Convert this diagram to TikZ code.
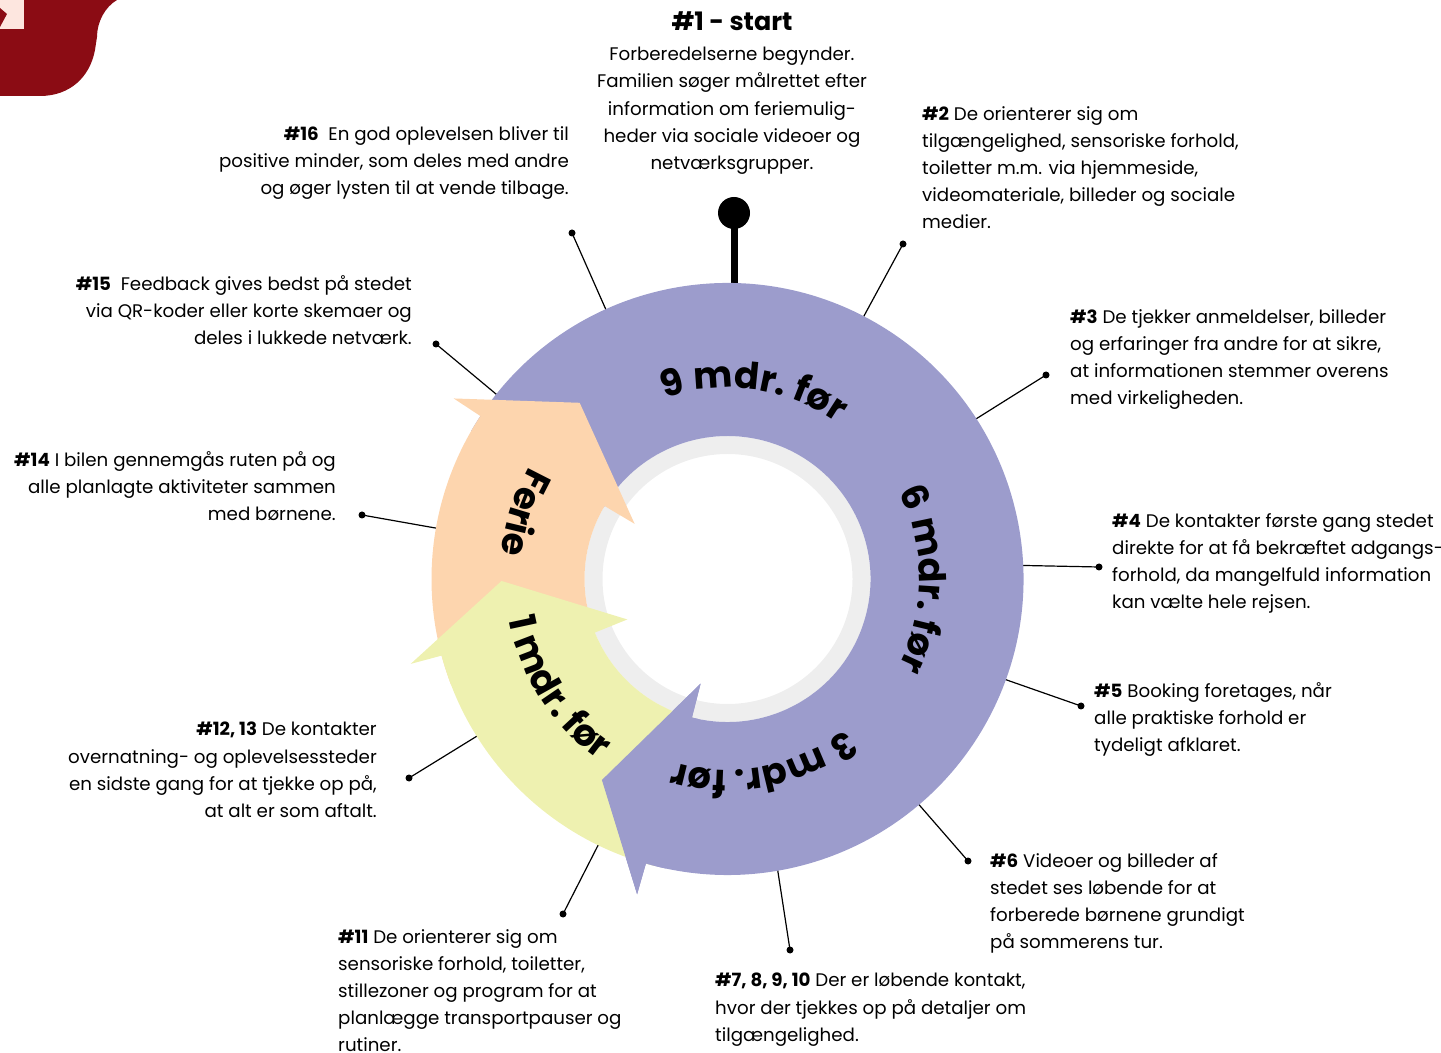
\documentclass[tikz,border=0pt]{standalone}
\usepackage{fontspec}
\setmainfont{Poppins}
\usetikzlibrary{decorations.text}
\definecolor{ringpurple}{HTML}{9C9CCC}
\definecolor{ringpeach}{HTML}{FDD5AE}
\definecolor{ringyellow}{HTML}{EEF1B0}
\definecolor{ringgray}{HTML}{EEEEEE}
\definecolor{logored}{HTML}{8B0C14}
\definecolor{logopink}{HTML}{FDE6DF}
\newcommand{\notefont}{\fontsize{18.3}{27.3}\selectfont}
\newcommand{\ringfont}{\fontsize{37}{37}\bfseries\selectfont}
% one curved arrow of the ring: style, tail angle, outer/inner head base angle, tip
\newcommand{\ringarrow}[5]{%
  \fill[#1] (#2:296) arc[start angle=#2, end angle=#3, radius=296]
    -- (#3:328) -- (#5) -- (#4:108) -- (#4:143)
    arc[start angle=#4, end angle=#2, radius=143] -- cycle;}
\tikzset{
  note/.style   = {font=\notefont, inner sep=0pt},
  tick/.style   = {line width=1.2bp},
  dot/.style    = {circle, fill=black, inner sep=0pt, minimum size=7bp},
  bigdot/.style = {circle, fill=black, inner sep=0pt, minimum size=32bp},
  stick/.style  = {line width=7bp},
  ringtext/.style = {decorate, decoration={text along path, text align=center,
                  text={|\ringfont|#1}}},
}
\begin{document}
\begin{tikzpicture}[x=1bp,y=1bp]
  \useasboundingbox (0,0) rectangle (1441,1052);
  % corner mark
  \fill[logored] (0,1052) -- (117,1052) .. controls (105,1045) and (97,1030) .. (97,1015)
    -- (95,1002) .. controls (90,975) and (70,956) .. (40,956) -- (0,956) -- cycle;
  \fill[logopink] (0,1023) rectangle (24,1052);
  \fill[logored] (0,1044) -- (7,1038) -- (0,1025) -- cycle;

  \coordinate (C) at (727.5,473);
  % connectors
  \foreach \n/\a/\x/\y in {16/114.3/572/819, 2/62.6/903/808, 3/32.8/1046/677,
      4/2.7/1099/485, 5/-19.9/1081/346, 6/-49.7/968/191, 7/-80.2/790/102,
      11/244.1/563/138, 12/212.1/409/274, 14/170.1/362/537, 15/141.4/436/708}
    {\path (C) ++(\a:290) coordinate (e\n);
     \node[dot] (d\n) at (\x,\y) {};
     \draw[tick] (e\n) -- (d\n.center);}
  \node[bigdot] (d1) at (734,839) {};
  \coordinate (e1) at (734,760);
  \draw[stick] (e1) -- (d1.center);

  \begin{scope}[shift={(C)}]
    \fill[ringgray, even odd rule] (0,0) circle[radius=143] (0,0) circle[radius=125];
    \ringarrow{ringpurple}{150}{-106}{-104.4}{-122:237}
    \ringarrow{ringpeach}{201}{146.6}{149.3}{130:230}
    \ringarrow{ringyellow}{256}{195}{202}{180.5:226}
    \ringarrow{ringpurple}{-102}{-106}{-104.4}{-122:237}
    \path[ringtext={9 mdr. før}] (125:191) arc[start angle=125, end angle=39, radius=191];
    \path[ringtext={6 mdr. før}] (43:192) arc[start angle=43, end angle=-43, radius=192];
    \path[ringtext={3 mdr. før}] (-36:191) arc[start angle=-36, end angle=-122, radius=191];
    \path[ringtext={Ferie}] (130:228) arc[start angle=130, end angle=194, radius=228];
    \path[ringtext={1 mdr. før}] (178:222) arc[start angle=178, end angle=247, radius=222];
  \end{scope}

  % notes
  \node[inner sep=0pt, font=\fontsize{25.5}{25.5}\bfseries\selectfont, anchor=base] (t1h) at (732,1021) {\#1 - start};
  \node[note, align=center, anchor=north] (t1) at (732,1005)
    {Forberedelserne begynder.\\Familien søger målrettet efter\\information om feriemulig-\\heder via sociale videoer og\\netværksgrupper.};
  \node[note, align=right, anchor=north east] (t16) at (569,926)
    {\textbf{\#16}\ \ En god oplevelsen bliver til\\positive minder, som deles med andre\\og øger lysten til at vende tilbage.};
  \node[note, align=left, anchor=north west] (t2) at (922,946)
    {\textbf{\#2} De orienterer sig om\\tilgængelighed, sensoriske forhold,\\toiletter m.m. via hjemmeside,\\videomateriale, billeder og sociale\\medier.};
  \node[note, align=right, anchor=north east] (t15) at (412,777)
    {\textbf{\#15}\ \ Feedback gives bedst på stedet\\via QR-koder eller korte skemaer og\\deles i lukkede netværk.};
  \node[note, align=left, anchor=north west] (t3) at (1070,743)
    {\textbf{\#3} De tjekker anmeldelser, billeder\\og erfaringer fra andre for at sikre,\\at informationen stemmer overens\\med virkeligheden.};
  \node[note, align=right, anchor=north east] (t14) at (336,601)
    {\textbf{\#14} I bilen gennemgås ruten på og\\alle planlagte aktiviteter sammen\\med børnene.};
  \node[note, align=left, anchor=north west] (t4) at (1112,539)
    {\textbf{\#4} De kontakter første gang stedet\\direkte for at få bekræftet adgangs-\\forhold, da mangelfuld information\\kan vælte hele rejsen.};
  \node[note, align=left, anchor=north west] (t5) at (1094,370)
    {\textbf{\#5} Booking foretages, når\\alle praktiske forhold er\\tydeligt afklaret.};
  \node[note, align=right, anchor=north east] (t12) at (377,330)
    {\textbf{\#12, 13} De kontakter\\overnatning- og oplevelsessteder\\en sidste gang for at tjekke op på,\\at alt er som aftalt.};
  \node[note, align=left, anchor=north west] (t6) at (990,199)
    {\textbf{\#6} Videoer og billeder af\\stedet ses løbende for at\\forberede børnene grundigt\\på sommerens tur.};
  \node[note, align=left, anchor=north west] (t7) at (715,79)
    {\textbf{\#7, 8, 9, 10} Der er løbende kontakt,\\hvor der tjekkes op på detaljer om\\tilgængelighed.};
  \node[note, align=left, anchor=north west] (t11) at (338,123)
    {\textbf{\#11} De orienterer sig om\\sensoriske forhold, toiletter,\\stillezoner og program for at\\planlægge transportpauser og\\rutiner.};
\end{tikzpicture}
\end{document}
